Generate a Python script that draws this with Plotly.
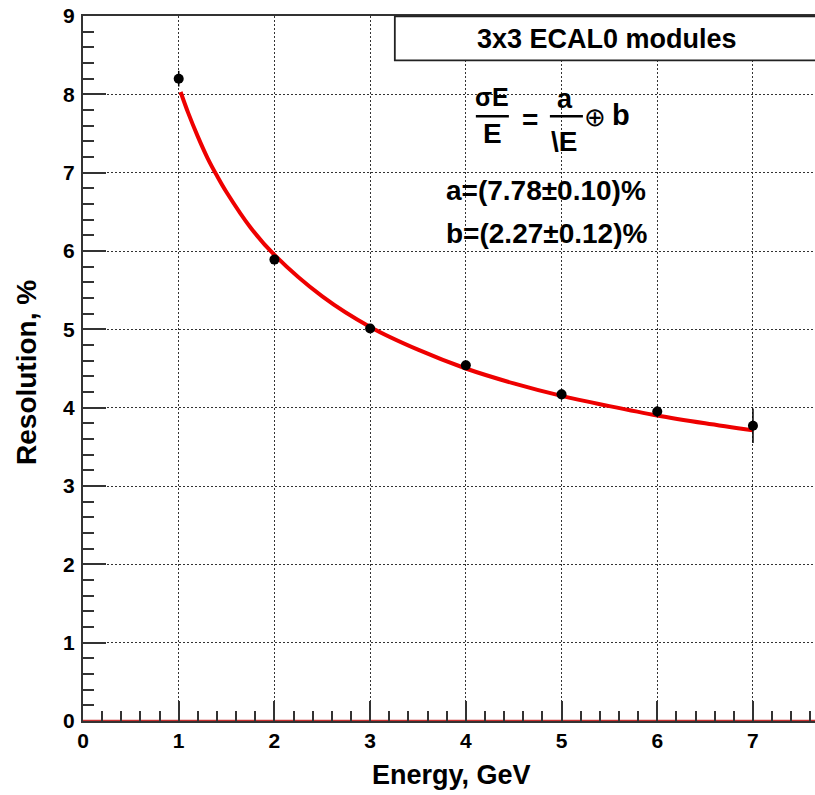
import plotly.graph_objects as go

# ---- data ----
energy = [1, 2, 3, 4, 5, 6, 7]
resolution = [8.20, 5.89, 5.01, 4.54, 4.17, 3.95, 3.77]
res_err = [0.10, 0.06, 0.05, 0.06, 0.07, 0.07, 0.22]

fit_energy = [1.02, 1.1, 1.2, 1.3, 1.4, 1.5, 1.75, 2.0, 2.5, 3.0, 3.5, 4.0, 4.5, 5.0, 5.5, 6.0, 6.5, 7.0]
fit_res = [8.03, 7.76, 7.46, 7.19, 6.96, 6.75, 6.30, 5.95, 5.42, 5.03, 4.74, 4.50, 4.31, 4.15, 4.02, 3.90, 3.80, 3.71]

x_ticks = [0, 1, 2, 3, 4, 5, 6, 7]
y_ticks = [0, 1, 2, 3, 4, 5, 6, 7, 8, 9]

legend_text = "3x3 ECAL0 modules"
par_a = "a=(7.78±0.10)%"
par_b = "b=(2.27±0.12)%"

# ---- layout geometry (pixels) ----
W, H = 815, 795
L, T, B, R = 83.3, 15.7, 74.3, 0
PW = W - L - R
PH = H - T - B
FONT = "Liberation Sans, Arial, Helvetica, sans-serif"


def pxx(x):
    return (x - L) / PW


def pxy(y):
    return (H - B - y) / PH


fig = go.Figure()

# red line along y = 0
fig.add_trace(go.Scatter(x=[0, 7.65], y=[0, 0], mode="lines",
                         line=dict(color="#c83232", width=2.5),
                         hoverinfo="skip", showlegend=False, cliponaxis=False))

# fit curve
fig.add_trace(go.Scatter(x=fit_energy, y=fit_res, mode="lines",
                         line=dict(color="#ee0000", width=4, shape="spline"),
                         showlegend=False))

# data points
fig.add_trace(go.Scatter(x=energy, y=resolution, mode="markers",
                         marker=dict(color="black", size=10),
                         error_y=dict(type="data", array=res_err, color="black",
                                      thickness=1.5, width=0),
                         showlegend=False))

axis_common = dict(
    showline=True, linecolor="#333333", linewidth=2,
    ticks="inside", tickcolor="#333333", tickwidth=1.6,
    showgrid=True, gridcolor="#333333", gridwidth=1.3, griddash="2px,2px",
    zeroline=False,
    tickfont=dict(family=FONT, size=21, color="black", weight="bold"),
)

fig.update_xaxes(range=[0, (W - L) / 95.67], tickvals=x_ticks,
                 ticktext=[str(v) for v in x_ticks], ticklen=20,
                 minor=dict(dtick=0.2, ticks="inside", ticklen=10,
                            tickcolor="#333333", tickwidth=1.6, showgrid=False),
                 mirror=True, **axis_common)
fig.update_yaxes(range=[0, 9], tickvals=y_ticks,
                 ticktext=[str(v) for v in y_ticks], ticklen=23,
                 minor=dict(dtick=0.2, ticks="inside", ticklen=11,
                            tickcolor="#333333", tickwidth=1.6, showgrid=False),
                 ticklabelstandoff=2, **axis_common)

shapes = [
    # legend box
    dict(type="rect", xref="paper", yref="paper",
         x0=pxx(395), x1=pxx(840), y0=pxy(60), y1=pxy(16),
         line=dict(color="#222222", width=1.8), fillcolor="white", layer="above"),
    # fraction bars
    dict(type="line", xref="paper", yref="paper",
         x0=pxx(476), x1=pxx(509), y0=pxy(116), y1=pxy(116),
         line=dict(color="black", width=2.5)),
    dict(type="line", xref="paper", yref="paper",
         x0=pxx(550), x1=pxx(583), y0=pxy(116), y1=pxy(116),
         line=dict(color="black", width=2.5)),
]

ann = []


def txt(s, x, y, size, bold=True, angle=0):
    ann.append(dict(text=s, xref="paper", yref="paper", x=pxx(x), y=pxy(y),
                    xanchor="center", yanchor="middle", showarrow=False,
                    textangle=angle,
                    font=dict(family=FONT, size=size, color="black",
                              weight="bold" if bold else "normal")))


txt(legend_text, 607, 39, 27)
txt("σE", 492, 97, 25)
txt("E", 493, 133, 28)
txt("=", 530, 119, 28)
txt("a", 565, 99, 27)
txt("\\E", 564, 141, 28)
txt("⊕", 595, 117, 26, bold=False)
txt("b", 621, 115, 29)
txt(par_a, 546, 190, 28)
txt(par_b, 547, 233, 28)
txt("Energy, GeV", 452, 775, 27)
txt("Resolution, %", 27, 372, 28, angle=-90)

fig.update_layout(width=W, height=H,
                  margin=dict(l=L, r=R, t=T, b=B, pad=0),
                  paper_bgcolor="white", plot_bgcolor="white",
                  shapes=shapes, annotations=ann, showlegend=False)

fig.write_html("out.html")
